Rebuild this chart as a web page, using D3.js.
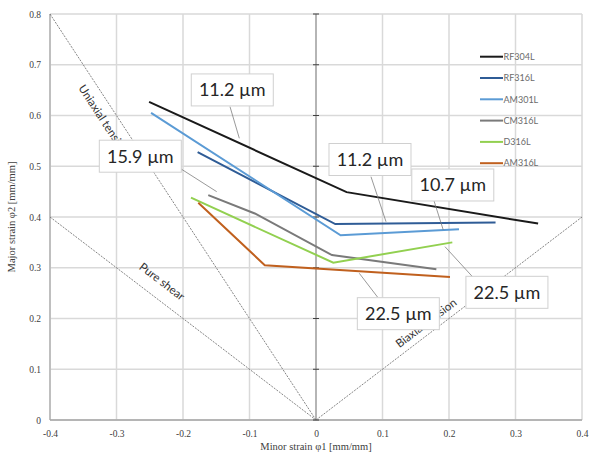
<!DOCTYPE html>
<html>
<head>
<meta charset="utf-8">
<script src="https://cdn.jsdelivr.net/npm/d3@7"></script>
<style>
body{margin:0;background:#fff}
</style>
</head>
<body>
<div id="chart"></div>
<script>

// series, points are [minor strain, major strain]
const names=["RF304L","RF316L","AM301L","CM316L","D316L","AM316L"];
const colors=["#1a1a1a","#2f5c96","#5b9bd5","#7a7a7a","#92d050","#c0601e"];
const rf304l=[[-0.251,0.627],[0.046,0.449],[0.334,0.387]];
const rf316l=[[-0.178,0.528],[0.029,0.386],[0.270,0.389]];
const am301l=[[-0.248,0.605],[0.037,0.364],[0.215,0.376]];
const cm316l=[[-0.162,0.443],[-0.092,0.407],[0.024,0.325],[0.181,0.297]];
const d316l=[[-0.188,0.438],[0.026,0.310],[0.205,0.350]];
const am316l=[[-0.177,0.428],[-0.077,0.305],[0.2015,0.282]];
const series=[rf304l,rf316l,am301l,cm316l,d316l,am316l];

const xTicks=[-0.4,-0.3,-0.2,-0.1,0,0.1,0.2,0.3,0.4];
const yTicks=[0,0.1,0.2,0.3,0.4,0.5,0.6,0.7,0.8];

// forming limit reference lines
const uniaxial=[[-0.4,0.8],[0,0]];
const pureShear=[[-0.4,0.4],[0,0]];
const biaxial=[[0,0],[0.4,0.4]];
const refLines=[uniaxial,pureShear,biaxial];
const refNames=["Uniaxial tension","Pure shear","Biaxial tension"];
const refLabelAt=[[-0.3579,0.6542],[-0.2672,0.2987],[0.1256,0.1413]];

// grain size call-outs
const calloutText=["11.2 µm","11.2 µm","10.7 µm","15.9 µm","22.5 µm","22.5 µm"];
const calloutAt=[[-0.1259,0.6504],[0.0812,0.5133],[0.2057,0.4631],[-0.2642,0.5198],[0.1238,0.2095],[0.2871,0.2516]];
const leaderFrom=[[-0.1293,0.6174],[0.0827,0.4794],[0.1774,0.4321],[-0.2045,0.4960],[0.0928,0.2418],[0.2361,0.2812]];
const leaderTo=[[-0.1153,0.5551],[0.1053,0.3907],[0.1914,0.3744],[-0.1493,0.4499],[0.0651,0.2891],[0.1940,0.3415]];


const W=597,H=454;
const x=d3.scaleLinear().domain([-0.4,0.4]).range([50,582]);
const y=d3.scaleLinear().domain([0,0.8]).range([420,14]);

const svg=d3.select("#chart").append("svg")
	.attr("width",W).attr("height",H)
	.style("font-family","Lato, sans-serif");

// grid
svg.append("g").selectAll("line").data(xTicks).join("line")
	.attr("x1",d=>x(d)).attr("x2",d=>x(d))
	.attr("y1",y(0.8)).attr("y2",y(0))
	.attr("stroke","#d9d9d9").attr("stroke-width",1.5);
svg.append("g").selectAll("line").data(yTicks).join("line")
	.attr("x1",x(-0.4)).attr("x2",x(0.4))
	.attr("y1",d=>y(d)).attr("y2",d=>y(d))
	.attr("stroke","#d9d9d9").attr("stroke-width",1.5);

// frame on left and bottom, vertical axis through 0
svg.append("line").attr("x1",x(-0.4)).attr("x2",x(-0.4)).attr("y1",y(0.8)).attr("y2",y(0))
	.attr("stroke","#b3b3b3").attr("stroke-width",1.5);
svg.append("line").attr("x1",x(-0.4)).attr("x2",x(0.4)).attr("y1",y(0)).attr("y2",y(0))
	.attr("stroke","#a6a6a6").attr("stroke-width",1.5);
svg.append("line").attr("x1",x(0)).attr("x2",x(0)).attr("y1",y(0.8)).attr("y2",y(0))
	.attr("stroke","#a6a6a6").attr("stroke-width",1.5);
svg.append("g").selectAll("line").data(yTicks).join("line")
	.attr("x1",x(0)-3).attr("x2",x(0)+3)
	.attr("y1",d=>y(d)).attr("y2",d=>y(d))
	.attr("stroke","#404040").attr("stroke-width",1);

// tick labels
const fmt=d=>d===0?"0":d.toFixed(1);
const ax=svg.append("g").attr("transform","translate(0,"+y(0)+")")
	.call(d3.axisBottom(x).tickValues(xTicks).tickFormat(fmt).tickSize(0).tickPadding(10));
const ay=svg.append("g").attr("transform","translate("+x(-0.4)+",0)")
	.call(d3.axisLeft(y).tickValues(yTicks).tickFormat(fmt).tickSize(0).tickPadding(9));
[ax,ay].forEach(g=>{
	g.select(".domain").remove();
	g.selectAll("text").attr("font-family","'Liberation Serif', serif").attr("font-size",9.5).attr("fill","#404040");
});

// axis titles
svg.append("text").attr("x",x(0)).attr("y",450).attr("text-anchor","middle")
	.attr("font-family","'Liberation Serif', serif").attr("font-size",10.5).attr("fill","#404040")
	.text("Minor strain φ1 [mm/mm]");
svg.append("text").attr("transform","translate(15,"+y(0.4)+") rotate(-90)").attr("text-anchor","middle")
	.attr("font-family","'Liberation Serif', serif").attr("font-size",10.5).attr("fill","#404040")
	.text("Major strain φ2 [mm/mm]");

// reference lines
const line=d3.line().x(d=>x(d[0])).y(d=>y(d[1]));
svg.append("g").selectAll("path").data(refLines).join("path")
	.attr("d",line).attr("fill","none")
	.attr("stroke","#666").attr("stroke-width",0.8).attr("stroke-dasharray","2,1.2");
svg.append("g").selectAll("text").data(refNames).join("text")
	.attr("transform",(d,i)=>{
		const l=refLines[i];
		let a=Math.atan2(y(l[1][1])-y(l[0][1]),x(l[1][0])-x(l[0][0]))*180/Math.PI;
		if(a>90)a-=180;if(a<-90)a+=180;
		return "translate("+x(refLabelAt[i][0])+","+y(refLabelAt[i][1])+") rotate("+a+")";
	})
	.attr("font-size",11.5).attr("fill","#333")
	.text(d=>d);

// series
svg.append("g").selectAll("path").data(series).join("path")
	.attr("d",line).attr("fill","none")
	.attr("stroke",(d,i)=>colors[i]).attr("stroke-width",2);

// legend
const lg=svg.append("g").selectAll("g").data(names).join("g")
	.attr("transform",(d,i)=>"translate(480,"+(56.7+i*21.3)+")");
lg.append("line").attr("x1",0).attr("x2",23).attr("stroke",(d,i)=>colors[i]).attr("stroke-width",2);
lg.append("text").attr("x",23.5).attr("y",3.2).attr("font-size",9).attr("fill","#6b6b6b").text(d=>d);

// call-outs
svg.append("g").selectAll("line").data(leaderFrom).join("line")
	.attr("x1",d=>x(d[0])).attr("y1",d=>y(d[1]))
	.attr("x2",(d,i)=>x(leaderTo[i][0])).attr("y2",(d,i)=>y(leaderTo[i][1]))
	.attr("stroke","#7f7f7f").attr("stroke-width",0.8);
const co=svg.append("g").selectAll("g").data(calloutText).join("g")
	.attr("transform",(d,i)=>"translate("+x(calloutAt[i][0])+","+y(calloutAt[i][1])+")");
co.append("rect").attr("x",-41).attr("y",-16).attr("width",82).attr("height",32)
	.attr("fill","#fff").attr("stroke","#d0d0d0").attr("stroke-width",1);
co.append("text").attr("text-anchor","middle").attr("y",6.5)
	.attr("font-size",18).attr("fill","#262626").text(d=>d);

</script>
</body>
</html>
